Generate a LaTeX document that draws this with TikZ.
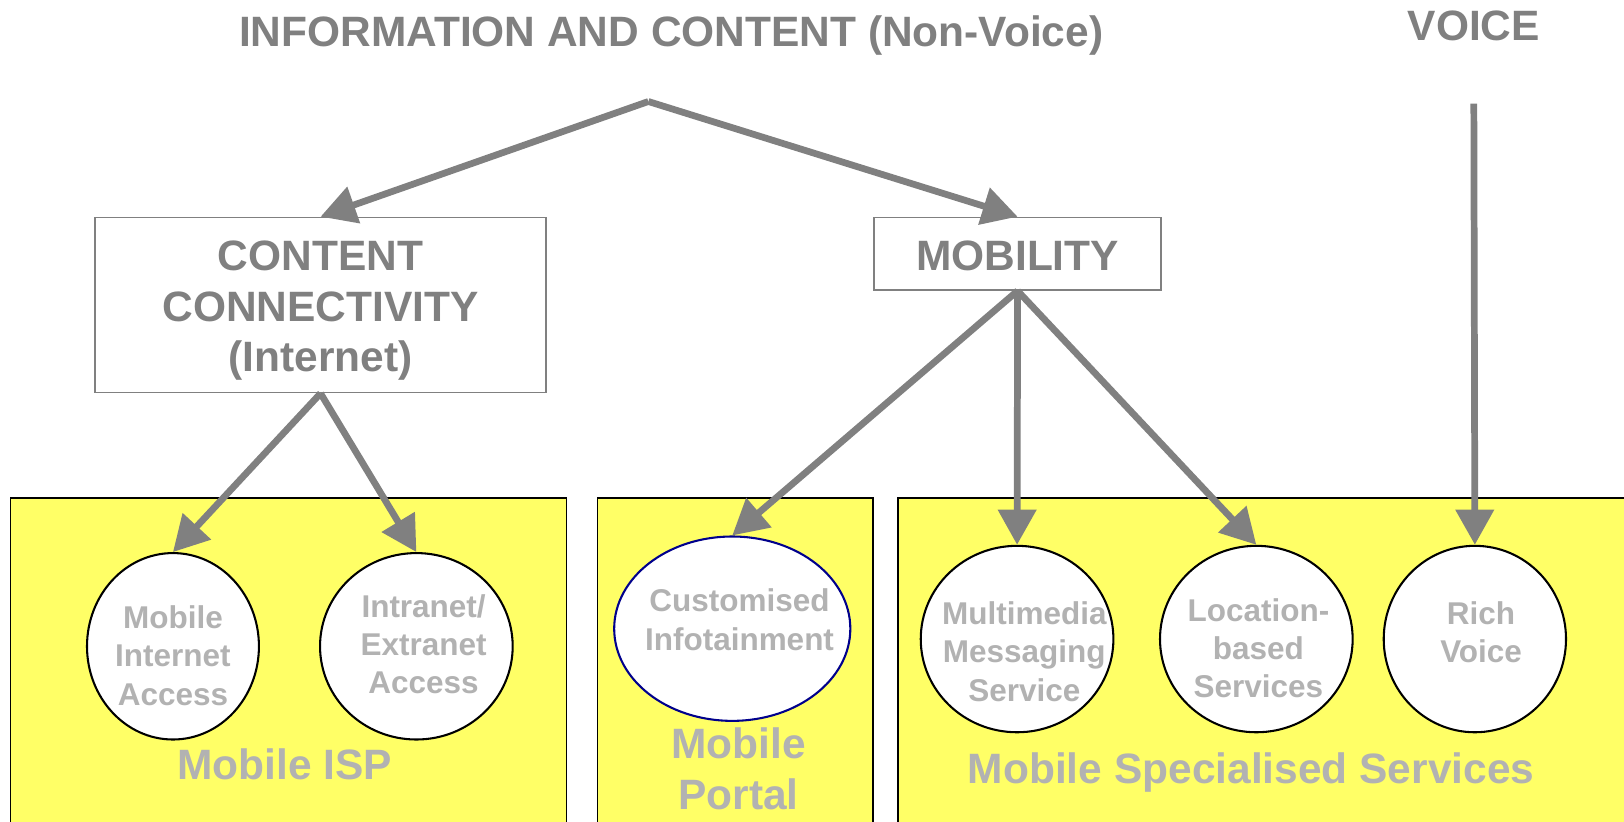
\documentclass[tikz,border=0pt]{standalone}
\usepackage{fontspec}
\setmainfont{Liberation Sans}
\usetikzlibrary{shapes.geometric,arrows.meta}
\definecolor{dgray}{RGB}{128,128,128}
\definecolor{lgray}{RGB}{178,178,178}
\definecolor{pyellow}{RGB}{255,255,102}
\definecolor{navyb}{RGB}{0,0,140}
\begin{document}
\begin{tikzpicture}[x=1pt,y=-1pt,
  conn/.style={draw=dgray, line width=6.5pt, -{Triangle[length=34pt,width=36pt]}},
  toptext/.style={text=dgray, font={\fontsize{41}{49}\selectfont\bfseries}, inner sep=0pt, align=center},
  topbox/.style={draw=dgray, line width=1.6pt, fill=white, inner sep=0pt},
  panel/.style={draw=black, line width=1.6pt, fill=pyellow},
  svc/.style={ellipse, draw=black, line width=2pt, fill=white, inner sep=0pt},
  svctext/.style={text=lgray, align=center, inner sep=0pt,
                  font={\fontsize{30.4}{37}\selectfont\bfseries}},
  grptext/.style={text=lgray, align=center, inner sep=0pt,
                  font={\fontsize{41}{49}\selectfont\bfseries}}]
\useasboundingbox (0,0) rectangle (1568,793);
\clip (0,0) rectangle (1568,793);

% panels
\draw[panel] (10,481) rectangle (547,810);
\draw[panel] (577,481) rectangle (843,810);
\draw[panel] (867,481) rectangle (1590,810);

% headings
\node[toptext, anchor=base] (title) at (648,45) {INFORMATION AND CONTENT (Non-Voice)};
\node[toptext, anchor=base] (voice) at (1423,39) {VOICE};

% boxes
\node[topbox, minimum width=435pt, minimum height=169pt] (content) at (309.5,294.5) {};
\node[toptext] (contentt) at (309.5,300) {CONTENT\\CONNECTIVITY\\(Internet)};
\node[topbox, minimum width=277pt, minimum height=70pt] (mobility) at (982.5,245) {};
\node[toptext] (mobilityt) at (982.5,247) {MOBILITY};

% service ellipses
\node[svc, minimum width=166pt, minimum height=180pt] (mia) at (167,624) {};
\node[svc, minimum width=186pt, minimum height=180pt] (intra) at (402,624) {};
\node[svc, draw=navyb, minimum width=228pt, minimum height=178pt] (cust) at (707,607) {};
\node[svc, minimum width=186pt, minimum height=180pt] (mms) at (982,617) {};
\node[svc, minimum width=186pt, minimum height=180pt] (lbs) at (1213,617) {};
\node[svc, minimum width=176pt, minimum height=180pt] (rv) at (1424,617) {};

\node[svctext] (miat) at (167,633) {Mobile\\Internet\\Access};
\node[svctext] (intrat) at (409,622) {Intranet/\\Extranet\\Access};
\node[svctext] (custt) at (714,598.5) {Customised\\Infotainment};
\node[svctext] (mmst) at (989,629) {Multimedia\\Messaging\\Service};
\node[svctext] (lbst) at (1215,626) {Location-\\based\\Services};
\node[svctext] (rvt) at (1430,610.5) {Rich\\Voice};

% group labels
\node[grptext] (ispl) at (275,738) {Mobile ISP};
\node[grptext] (portl) at (713,742) {Mobile\\Portal};
\node[grptext] (mssl) at (1208,746) {Mobile Specialised Services};

% connectors
\coordinate (apex) at (626,98);
\coordinate (vtop) at (1423,100);
\draw[conn] (apex) -- (content.north);
\draw[conn] (apex) -- (mobility.north);
\draw[conn] (content.south) -- (mia.north);
\draw[conn] (content.south) -- (intra.north);
\draw[conn] (mobility.south) -- (cust.north);
\draw[conn] (mobility.south) -- (mms.north);
\draw[conn] (mobility.south) -- (lbs.north);
\draw[conn] (vtop) -- (rv.north);
\end{tikzpicture}
\end{document}
